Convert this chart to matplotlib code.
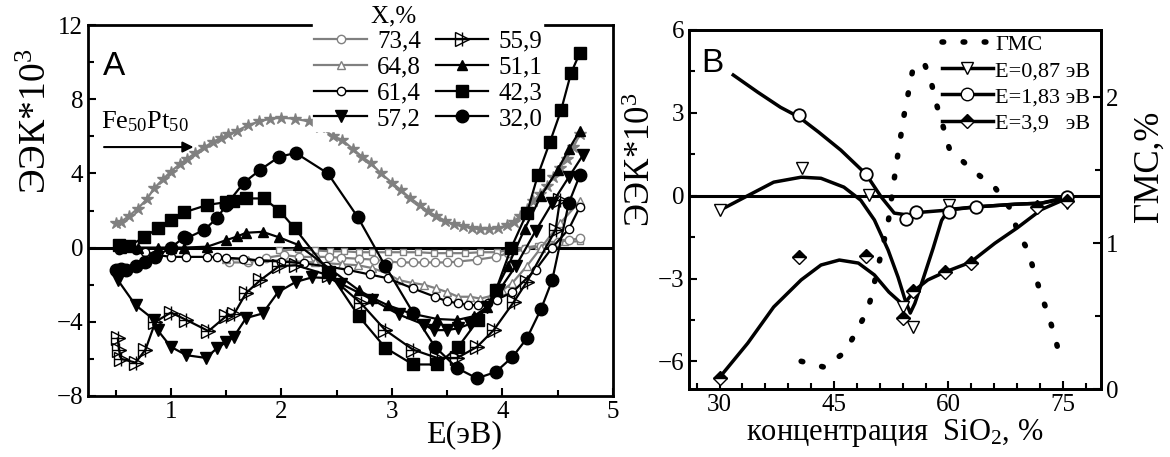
import numpy as np
import matplotlib
matplotlib.use("Agg")
import matplotlib.pyplot as plt
from matplotlib.lines import Line2D
from matplotlib.legend_handler import HandlerTuple
from matplotlib.ticker import MultipleLocator

plt.rcParams['font.family'] = ['Liberation Serif', 'DejaVu Serif']
plt.rcParams['mathtext.fontset'] = 'custom'
plt.rcParams['mathtext.rm'] = 'Liberation Serif'
plt.rcParams['mathtext.it'] = 'Liberation Serif:italic'

GRAY = '#808080'

# ---------------- Panel A data ----------------
fept_x = [0.50, 0.55, 0.62, 0.70, 0.78, 0.85, 0.93, 1.00, 1.08, 1.15, 1.22, 1.30, 1.38, 1.45, 1.52, 1.60,
          1.70, 1.80, 1.90, 2.00, 2.12, 2.25, 2.35, 2.47, 2.55, 2.65, 2.73, 2.81, 2.90, 3.00, 3.08, 3.16,
          3.25, 3.33, 3.40, 3.48, 3.56, 3.64, 3.72, 3.80, 3.88, 3.96, 4.04, 4.10, 4.16, 4.22, 4.28, 4.34,
          4.40, 4.46, 4.52, 4.58, 4.64, 4.70]
fept_y = [1.3, 1.4, 1.7, 2.1, 2.6, 3.2, 3.7, 4.1, 4.5, 4.8, 5.1, 5.4, 5.7, 5.9, 6.1, 6.3,
          6.6, 6.8, 6.95, 7.0, 6.95, 6.8, 6.5, 6.0, 5.8, 5.3, 4.9, 4.55, 4.0, 3.5, 3.1, 2.7,
          2.3, 1.95, 1.7, 1.45, 1.25, 1.15, 1.05, 1.0, 1.0, 1.05, 1.2, 1.4, 1.7, 2.1, 2.5, 2.9,
          3.3, 3.8, 4.3, 4.8, 5.4, 6.1]

sq_gray_x = [1.98, 2.15, 2.30, 2.44, 2.57, 2.70, 2.82, 2.96, 3.10, 3.24, 3.38, 3.52, 3.66, 3.80, 3.95,
             4.08, 4.20, 4.32, 4.45, 4.57, 4.70]
sq_gray_y = [-0.15, -0.1, -0.15, -0.2, -0.2, -0.25, -0.25, -0.25, -0.25, -0.25, -0.3, -0.3, -0.3, -0.25,
             -0.25, -0.1, 0.0, 0.1, 0.2, 0.3, 0.35]

x734 = [1.53, 1.70, 1.86, 2.02, 2.16, 2.30, 2.43, 2.54, 2.70, 2.84, 2.96, 3.08, 3.19, 3.29, 3.39, 3.50,
        3.60, 3.77, 3.94, 4.05, 4.20, 4.35, 4.50, 4.60, 4.70]
y734 = [-0.8, -0.8, -0.55, -0.4, -0.5, -0.5, -0.5, -0.55, -0.6, -0.65, -0.75, -0.8, -0.8, -0.8, -0.8, -0.8,
        -0.75, -0.65, -0.5, -0.3, -0.1, 0.1, 0.3, 0.4, 0.5]

x648 = [1.50, 1.70, 2.00, 2.30, 2.55, 2.69, 2.82, 2.96, 3.06, 3.18, 3.29, 3.40, 3.50, 3.60, 3.71, 3.80,
        3.90, 4.00, 4.09, 4.22, 4.35, 4.52, 4.70]
y648 = [-0.6, -0.65, -0.7, -0.8, -0.9, -0.95, -1.1, -1.4, -1.75, -1.9, -2.0, -2.2, -2.4, -2.65, -2.65, -2.75,
        -2.6, -2.3, -1.9, -1.0, 0.0, 1.3, 2.5]

x614 = [0.53, 0.68, 0.77, 0.88, 1.00, 1.14, 1.33, 1.42, 1.50, 1.65, 1.80, 2.00, 2.20, 2.40, 2.60, 2.80,
        2.96, 3.19, 3.39, 3.50, 3.60, 3.69, 3.78, 3.87, 3.95, 4.09, 4.30, 4.45, 4.60, 4.70]
y614 = [-0.15, -0.15, -0.25, -0.4, -0.5, -0.5, -0.5, -0.5, -0.55, -0.6, -0.7, -0.75, -0.85, -1.0, -1.2, -1.45,
        -1.65, -2.2, -2.65, -2.9, -3.0, -3.1, -3.1, -3.0, -2.8, -2.4, -1.2, 0.0, 1.0, 2.2]

x572 = [0.52, 0.68, 0.85, 0.88, 1.00, 1.14, 1.32, 1.42, 1.50, 1.57, 1.68, 1.83, 1.97, 2.13, 2.28, 2.43,
        2.54, 2.82, 3.06, 3.29, 3.38, 3.50, 3.60, 3.71, 3.86, 3.97, 4.12, 4.30, 4.45, 4.60, 4.73]
y572 = [-1.75, -3.1, -3.9, -4.45, -5.35, -5.8, -5.95, -5.4, -5.1, -4.8, -3.8, -3.55, -2.4, -1.85, -1.6, -1.65,
        -1.95, -2.8, -3.6, -4.15, -4.45, -4.45, -4.35, -4.1, -3.2, -2.3, -1.0, 0.9, 2.4, 3.8, 5.0]

x559 = [0.52, 0.53, 0.55, 0.68, 0.77, 0.86, 1.00, 1.14, 1.34, 1.50, 1.57, 1.68, 1.81, 1.98, 2.13, 2.43,
        2.72, 2.94, 3.19, 3.41, 3.59, 3.77, 3.92, 4.10, 4.22, 4.48, 4.52]
y559 = [-4.9, -5.5, -6.0, -6.2, -5.5, -4.0, -3.5, -3.9, -4.5, -3.7, -3.6, -2.45, -1.75, -1.0, -0.95, -1.5,
        -3.0, -4.45, -5.5, -5.95, -5.95, -5.35, -4.45, -2.95, -1.85, 0.95, 2.55]

x511 = [0.55, 0.70, 0.88, 1.00, 1.12, 1.33, 1.50, 1.60, 1.68, 1.83, 1.98, 2.15, 2.45, 2.70, 2.82, 2.96,
        3.17, 3.41, 3.59, 3.74, 3.86, 4.05, 4.20, 4.35, 4.50, 4.60, 4.70]
y511 = [0.0, 0.0, 0.0, 0.0, 0.0, 0.05, 0.4, 0.6, 0.8, 0.85, 0.55, 0.15, -1.2, -2.3, -2.7, -3.1,
        -3.55, -3.85, -3.9, -3.7, -3.2, -1.0, 1.0, 2.8, 4.2, 5.3, 6.3]

x423 = [0.53, 0.62, 0.76, 0.88, 1.00, 1.12, 1.33, 1.50, 1.56, 1.68, 1.84, 1.98, 2.12, 2.43, 2.70, 2.94,
        3.19, 3.41, 3.60, 3.78, 3.94, 4.08, 4.22, 4.32, 4.43, 4.53, 4.62, 4.70]
y423 = [0.15, 0.1, 0.55, 1.05, 1.5, 1.9, 2.3, 2.45, 2.5, 2.65, 2.65, 2.0, 1.05, -1.3, -3.7, -5.4,
        -6.3, -6.3, -5.35, -3.9, -2.3, 0.0, 1.85, 3.9, 5.7, 7.4, 9.4, 10.5]

x320 = [0.50, 0.55, 0.59, 0.68, 0.77, 0.86, 1.00, 1.12, 1.14, 1.30, 1.42, 1.50, 1.66, 1.81, 1.98, 2.13,
        2.42, 2.69, 2.94, 3.19, 3.39, 3.59, 3.77, 3.94, 4.09, 4.22, 4.35, 4.45, 4.60, 4.70]
y320 = [-1.2, -1.15, -1.2, -1.0, -0.8, -0.5, 0.0, 0.55, 0.5, 0.95, 1.6, 2.3, 3.5, 4.2, 4.9, 5.1,
        4.0, 1.65, -1.0, -3.5, -5.35, -6.5, -7.05, -6.7, -5.9, -4.9, -3.3, -1.75, 2.4, 3.9]

# ---------------- Panel B data ----------------
gms_x = [40.7, 43.7, 46.4, 48.0, 49.5, 50.8, 52.1, 53.2, 54.2, 55.3, 56.8, 57.8, 58.5, 59.3, 60.1, 62.9,
         66.1, 68.2, 69.0, 70.5, 71.3, 72.2, 73.2, 74.0, 74.7]
gms_y = [0.19, 0.15, 0.25, 0.40, 0.55, 0.84, 1.14, 1.55, 1.88, 2.18, 2.24, 2.09, 1.94, 1.80, 1.65, 1.51,
         1.38, 1.23, 1.09, 0.94, 0.79, 0.64, 0.49, 0.35, 0.20]

e087_x = [30.1, 40.8, 49.6, 54.1, 55.4, 60.1, 75.5]
e087_y = [-0.52, 1.0, 0.02, -4.04, -4.76, -0.34, -0.27]
e087_fit_x = [30.1, 33.7, 37.1, 40.7, 43.3, 46.3, 48.5, 50.3, 52.1, 53.4, 54.3, 55.0, 55.6, 56.7, 58.0,
              59.1, 60.0, 63.4, 68.7, 72.2, 75.5]
e087_fit_y = [-0.52, 0.0, 0.49, 0.67, 0.63, 0.31, -0.16, -0.88, -1.97, -2.95, -3.75, -4.25, -3.9, -3.0,
              -1.9, -0.9, -0.5, -0.41, -0.31, -0.27, -0.1]

e183_x = [40.4, 49.2, 54.5, 55.8, 60.1, 63.6, 75.5]
e183_y = [2.92, 0.78, -0.85, -0.6, -0.6, -0.41, -0.03]
e183_fit_x = [31.8, 35.0, 38.0, 40.4, 43.0, 45.9, 49.2, 51.2, 52.9, 54.7, 56.4, 60.0, 63.4, 68.7, 72.2, 75.5]
e183_fit_y = [4.37, 3.75, 3.2, 2.85, 2.3, 1.65, 0.78, -0.05, -0.63, -0.7, -0.6, -0.52, -0.41, -0.31, -0.27, -0.05]

e39_x = [30.1, 40.4, 49.2, 54.1, 55.4, 59.5, 62.9, 71.6, 75.5]
e39_y = [-6.6, -2.22, -2.19, -4.43, -3.45, -2.77, -2.44, -0.41, -0.2]
e39_fit_x = [30.1, 33.7, 37.1, 40.7, 43.3, 45.7, 48.2, 50.3, 52.2, 54.1, 55.6, 57.3, 59.5, 62.9, 66.1,
             69.0, 72.2, 75.5]
e39_fit_y = [-6.55, -5.34, -4.03, -3.05, -2.51, -2.33, -2.44, -2.87, -3.49, -3.96, -3.42, -3.05, -2.77,
             -2.41, -1.72, -1.17, -0.5, -0.1]

legend_A = ['73,4', '64,8', '61,4', '57,2', '55,9', '51,1', '42,3', '32,0']
legend_B = ['ГМС', 'E=0,87 эВ', 'E=1,83 эВ', 'E=3,9   эВ']

# ---------------- Figure ----------------
fig = plt.figure(figsize=(11.7, 4.57), dpi=100)
axA = fig.add_axes([88/1170, 61/457, 525/1170, 371/457])
axB = fig.add_axes([689/1170, 68/457, 412/1170, 359/457])

LW = 1.6
axA.axhline(0, color='black', lw=2.2, zorder=1)

def ser(ax, x, y, color, marker, ms, mfc, mew=1.0, label=None, lw=LW, z=3):
    return ax.plot(x, y, color=color, lw=lw, marker=marker, ms=ms, mfc=mfc, mec=color,
                   mew=mew, label=label, zorder=z)[0]

ser(axA, fept_x, fept_y, GRAY, '*', 9, GRAY, z=2)
ser(axA, sq_gray_x, sq_gray_y, GRAY, 's', 5, 'white', z=2)
h734 = ser(axA, x734, y734, GRAY, 'o', 6, 'white', z=2)
h648 = ser(axA, x648, y648, GRAY, '^', 6, 'white', z=2)
h614 = ser(axA, x614, y614, 'black', 'o', 6, 'white')
h572 = ser(axA, x572, y572, 'black', 'v', 8, 'black')
h559 = ser(axA, x559, y559, 'black', '>', 10, 'none')
axA.plot(x559, y559, ls='none', marker='+', ms=10, color='black', mew=1.0, zorder=3)
h511 = ser(axA, x511, y511, 'black', '^', 7, 'black')
h423 = ser(axA, x423, y423, 'black', 's', 8, 'black')
h320 = ser(axA, x320, y320, 'black', 'o', 9, 'black')

axA.set_xlim(0.25, 5)
axA.set_ylim(-8, 12)
axA.xaxis.set_major_locator(MultipleLocator(1))
axA.xaxis.set_minor_locator(MultipleLocator(0.5))
axA.yaxis.set_major_locator(MultipleLocator(4))
axA.yaxis.set_minor_locator(MultipleLocator(2))
axA.tick_params(which='both', direction='in', top=False, right=False, labelsize=18, width=1.5)
axA.tick_params(which='major', length=6)
axA.tick_params(which='minor', length=4)
axA.set_xticks([1, 2, 3, 4, 5])
for s in axA.spines.values():
    s.set_linewidth(2)
axA.set_xlabel('E(эВ)', fontsize=23, labelpad=-2, x=0.716)
axA.set_ylabel('ЭЭК*10$^3$', fontsize=27, labelpad=2, y=0.74)

axA.text(0.028, 0.93, 'A', transform=axA.transAxes, fontsize=24, family='Liberation Sans',
         va='top', ha='left')
axA.text(0.37, 6.45, 'Fe$_{50}$Pt$_{50}$', fontsize=19, ha='left', va='baseline')
axA.annotate('', xy=(1.23, 5.42), xytext=(0.37, 5.42),
             arrowprops=dict(arrowstyle='-|>', color='black', lw=1.5, mutation_scale=16))

p_tri = Line2D([], [], ls='none', marker='>', ms=10, mfc='none', mec='black')
p_plus = Line2D([], [], ls='none', marker='+', ms=10, color='black')
p_line = Line2D([], [], color='black', lw=LW)
handlesA = [h734, h648, h614, h572, (p_line, p_tri, p_plus), h511, h423, h320]
legA = axA.legend(handlesA, legend_A, ncol=2, title='X,%' + ' ' * 11, fontsize=18, title_fontsize=18,
                  loc='upper left', bbox_to_anchor=(0.429, 1.057), frameon=True, fancybox=False,
                  edgecolor='white', facecolor='white', framealpha=1, handlelength=2.1,
                  handletextpad=0.4, columnspacing=0.6, labelspacing=0.13, borderpad=0.05,
                  borderaxespad=0.0,
                  handler_map={tuple: HandlerTuple(ndivide=1)})
legA.set_zorder(10)

# ---------------- Panel B ----------------
axB.axhline(0, color='black', lw=2.2, zorder=1)
axB.plot(e087_fit_x, e087_fit_y, color='black', lw=2.5, zorder=2)
axB.plot(e183_fit_x, e183_fit_y, color='black', lw=2.5, zorder=2)
axB.plot(e39_fit_x, e39_fit_y, color='black', lw=2.5, zorder=2)
axB.plot(e087_x, e087_y, ls='none', marker='v', ms=9, mfc='white', mec='black', mew=1.0, zorder=4)
axB.plot(e183_x, e183_y, ls='none', marker='o', ms=9, mfc='white', mec='black', mew=1.3, zorder=4)
axB.plot(e39_x, e39_y, ls='none', marker='D', ms=7, fillstyle='top', mfc='black',
         mfcalt='white', mec='black', mew=1.0, zorder=4)
axB.set_xlim(26, 80)
axB.set_ylim(-7, 6)
axB.xaxis.set_major_locator(MultipleLocator(15))
axB.xaxis.set_minor_locator(MultipleLocator(3))
axB.yaxis.set_major_locator(MultipleLocator(3))
axB.yaxis.set_minor_locator(MultipleLocator(1.5))
axB.tick_params(which='both', direction='in', top=False, right=False, labelsize=18, width=1.5)
axB.tick_params(which='major', length=6)
axB.tick_params(which='minor', length=4)
for s in axB.spines.values():
    s.set_linewidth(2)
axB.set_xlabel('концентрация  SiO$_2$, %', fontsize=22, labelpad=1)
axB.set_ylabel('ЭЭК*10$^3$', fontsize=25, labelpad=0, y=0.64)
axB.text(0.03, 0.95, 'B', transform=axB.transAxes, fontsize=24, family='Liberation Sans',
         va='top', ha='left')

ax2 = axB.twinx()
ax2.plot(gms_x, gms_y, color='black', lw=4, ls=(0, (0.3, 3.5)), dash_capstyle='round', zorder=3)
ax2.set_ylim(0, 2.46)
ax2.yaxis.set_major_locator(MultipleLocator(1))
ax2.yaxis.set_minor_locator(MultipleLocator(0.5))
ax2.tick_params(which='both', direction='in', labelsize=18, width=1.5)
ax2.tick_params(which='major', length=6)
ax2.tick_params(which='minor', length=4)
for s in ax2.spines.values():
    s.set_linewidth(2)
ax2.set_ylabel('ГМС,%', fontsize=25, labelpad=10, y=0.62)

hg = Line2D([], [], color='black', lw=4, ls=(0, (0.3, 3.5)), dash_capstyle='round')
h1 = Line2D([], [], color='black', lw=2.5, marker='v', ms=9, mfc='white', mec='black')
h2 = Line2D([], [], color='black', lw=2.5, marker='o', ms=9, mfc='white', mec='black')
h3 = Line2D([], [], color='black', lw=2.5, marker='D', ms=7, fillstyle='top', mfc='black',
            mfcalt='white', mec='black')
legB = ax2.legend([hg, h1, h2, h3], legend_B, loc='upper right', bbox_to_anchor=(0.985, 1.0),
                  fontsize=16, frameon=False, handlelength=2.3, handletextpad=0.1,
                  labelspacing=0.25, borderpad=0.1, borderaxespad=0.1)

fig.savefig('out.png', dpi=100)
